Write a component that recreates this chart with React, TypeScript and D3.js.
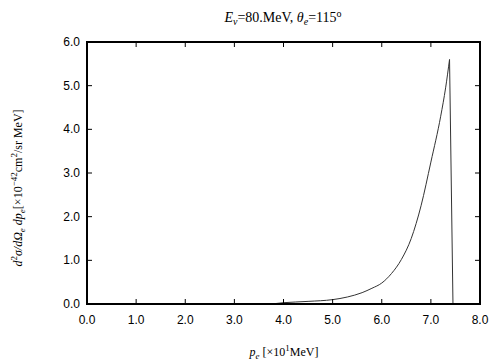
import React from "react";
import * as d3 from "d3";

const xTicks = [0, 1, 2, 3, 4, 5, 6, 7, 8];
const yTicks = [0, 1, 2, 3, 4, 5, 6];
const pe = [3.6, 3.7, 4.0, 4.5, 5.0, 5.3, 5.6, 5.8, 6.0, 6.2, 6.4, 6.6, 6.8, 7.0, 7.2, 7.3, 7.38, 7.45];
const xs = [0.0, 0.0, 0.03, 0.06, 0.1, 0.16, 0.26, 0.36, 0.48, 0.7, 1.02, 1.5, 2.25, 3.25, 4.3, 4.95, 5.6, 0.0];

export default function App() {
  const W = 504, H = 360;
  const L = 87, R = 480, T = 42, B = 304;
  const x = d3.scaleLinear().domain([0, 8]).range([L, R]);
  const y = d3.scaleLinear().domain([0, 6]).range([B, T]);
  const pts = pe.map((p, i) => [p, xs[i]] as [number, number]);
  const rise = pts.slice(0, pts.length - 1);
  const drop = pts.slice(pts.length - 2);
  const smooth = d3.line<[number, number]>().x(d => x(d[0])).y(d => y(d[1])).curve(d3.curveMonotoneX);
  const straight = d3.line<[number, number]>().x(d => x(d[0])).y(d => y(d[1]));
  const font = "Liberation Sans, Arial, sans-serif";
  const serif = "Liberation Serif, Times New Roman, serif";
  const tl = 5;
  return (
    <svg width={W} height={H} style={{ position: "absolute", left: 0, top: 0, background: "#fff" }}>
      <path d={smooth(rise) || ""} fill="none" stroke="#333" strokeWidth={1} />
      <path d={straight(drop) || ""} fill="none" stroke="#333" strokeWidth={1} />
      {xTicks.map(t => (
        <g key={"x" + t}>
          <line x1={x(t)} x2={x(t)} y1={B} y2={B - tl} stroke="#000" />
          <line x1={x(t)} x2={x(t)} y1={T} y2={T + tl} stroke="#000" />
          <text x={x(t)} y={324} textAnchor="middle" fontFamily={font} fontSize={12}>{t.toFixed(1)}</text>
        </g>
      ))}
      {yTicks.map(t => (
        <g key={"y" + t}>
          <line x1={L} x2={L + tl} y1={y(t)} y2={y(t)} stroke="#000" />
          <line x1={R} x2={R - tl} y1={y(t)} y2={y(t)} stroke="#000" />
          <text x={80} y={y(t) + 4} textAnchor="end" fontFamily={font} fontSize={12}>{t.toFixed(1)}</text>
        </g>
      ))}
      <rect x={L} y={T} width={R - L} height={B - T} fill="none" stroke="#000" strokeWidth={2} />
      <text x={283} y={22} textAnchor="middle" fontFamily={serif} fontSize={14}>
        <tspan fontStyle="italic">E</tspan><tspan fontStyle="italic" fontSize={10} dy={3}>ν</tspan>
        <tspan dy={-3}>=80.MeV,  </tspan><tspan fontStyle="italic">θ</tspan>
        <tspan fontStyle="italic" fontSize={10} dy={3}>e</tspan><tspan dy={-3}>=115</tspan>
        <tspan fontSize={10} dy={-5}>o</tspan>
      </text>
      <text x={284} y={356} textAnchor="middle" fontFamily={serif} fontSize={12}>
        <tspan fontStyle="italic">p</tspan><tspan fontStyle="italic" fontSize={9} dy={3}>e</tspan>
        <tspan dy={-3}> [×10</tspan><tspan fontSize={9} dy={-5}>1</tspan><tspan dy={5}>MeV]</tspan>
      </text>
      <text transform="translate(22,188) rotate(-90)" textAnchor="middle" fontFamily={serif} fontSize={12}>
        <tspan fontStyle="italic">d</tspan><tspan fontSize={9} dy={-5}>2</tspan>
        <tspan dy={5} fontStyle="italic">σ/dΩ</tspan><tspan fontStyle="italic" fontSize={9} dy={3}>e</tspan>
        <tspan dy={-3} fontStyle="italic"> dp</tspan><tspan fontStyle="italic" fontSize={9} dy={3}>e</tspan>
        <tspan dy={-3}>[×10</tspan><tspan fontSize={9} dy={-5}>−42</tspan>
        <tspan dy={5}>cm</tspan><tspan fontSize={9} dy={-5}>2</tspan><tspan dy={5}>/sr MeV]</tspan>
      </text>
    </svg>
  );
}
